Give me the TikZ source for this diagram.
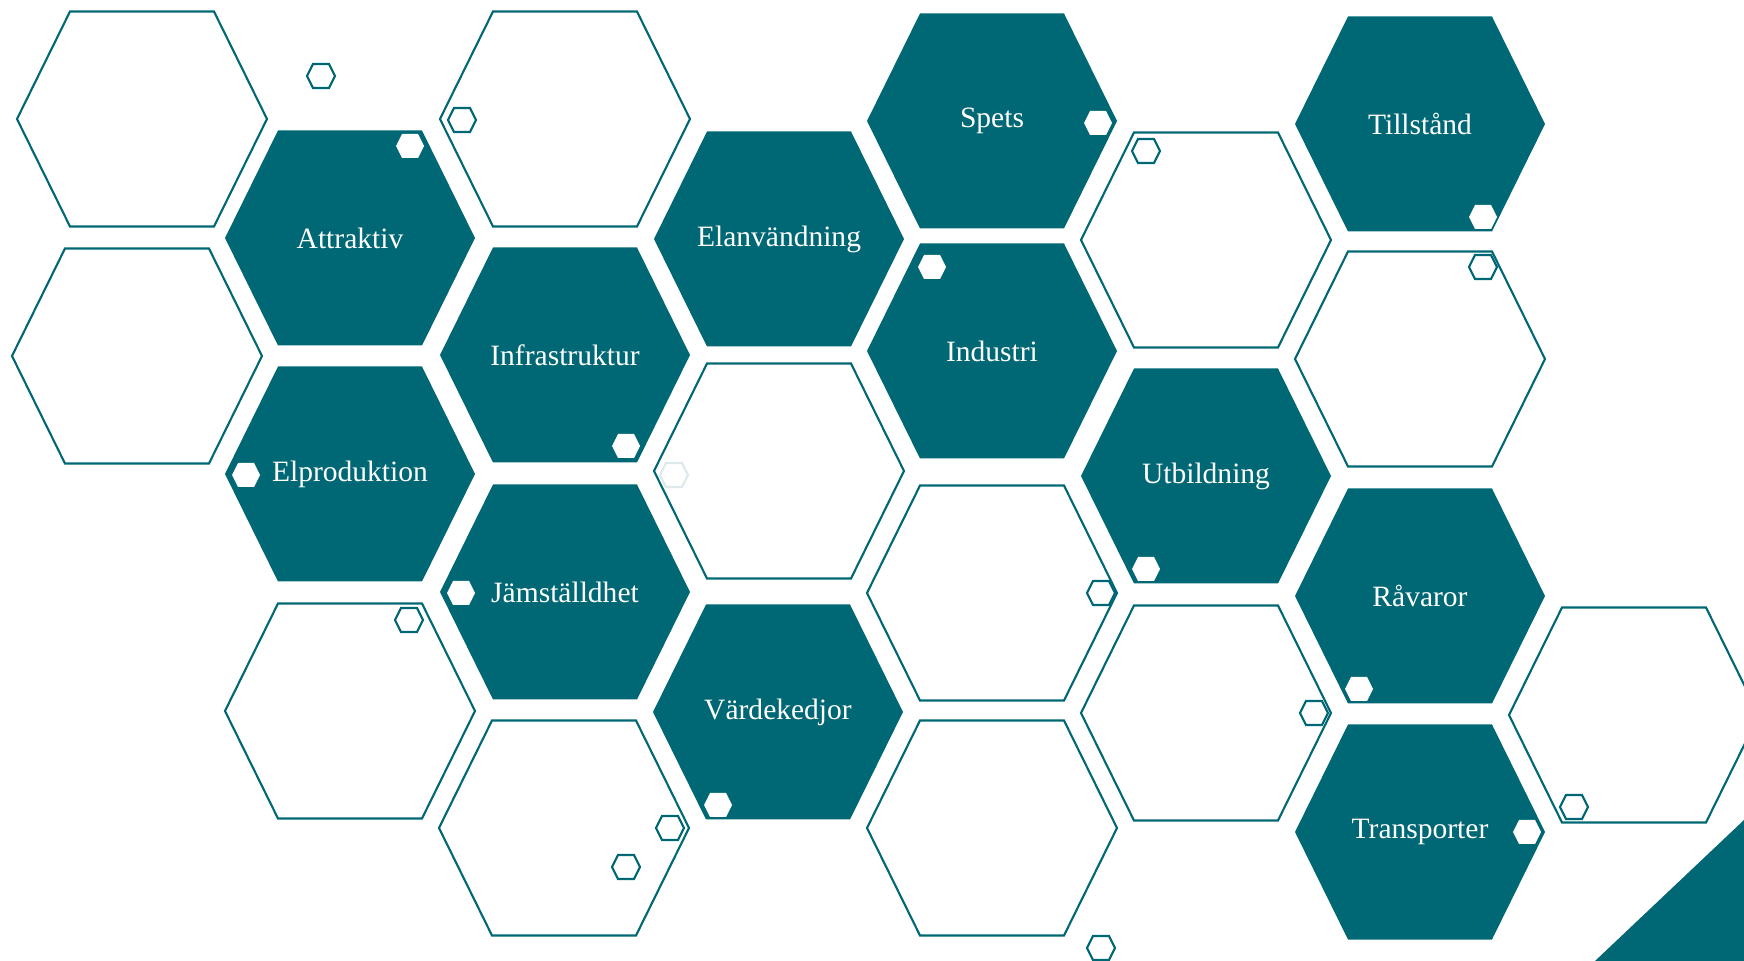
\documentclass[tikz,border=0pt]{standalone}
\usepackage{fontspec}
\setmainfont{Liberation Serif}
\usepackage{tikz}
\definecolor{petrol}{RGB}{0,104,116}
\definecolor{pale}{RGB}{222,233,236}
\newcommand{\bighex}[3][]{\path[#1,shift={(#2,#3)}] (-125,0) -- (-72,-107.5) -- (72,-107.5) -- (125,0) -- (72,107.5) -- (-72,107.5) -- cycle;}
\newcommand{\dothex}[3][]{\path[#1,shift={(#2,#3)}] (-14,0) -- (-8,-12) -- (8,-12) -- (14,0) -- (8,12) -- (-8,12) -- cycle;}

\begin{document}
\begin{tikzpicture}[x=0.1mm, y=-0.1mm,
    field/.style={fill=petrol},
    frame/.style={draw=petrol, line width=0.6pt},
    dot/.style={fill=white},
    ring/.style={draw=petrol, line width=0.6pt},
    faint/.style={draw=pale, line width=0.6pt},
    lbl/.style={text=white, font=\fontsize{8.4}{10}\selectfont}]
      \useasboundingbox (0,0) rectangle (1744,961);
      \bighex[frame]{142}{119}
      \bighex[frame]{565}{119}
      \bighex[frame]{137}{356}
      \bighex[frame]{779}{471}
      \bighex[frame]{1206}{240}
      \bighex[frame]{1420}{359}
      \bighex[frame]{992}{593}
      \bighex[frame]{350}{711}
      \bighex[frame]{564}{828}
      \bighex[frame]{992}{828}
      \bighex[frame]{1206}{713}
      \bighex[frame]{1634}{715}
      \bighex[field]{350}{238}
      \node[lbl] (attraktiv) at (350, 238) {Attraktiv};
      \bighex[field]{779}{239}
      \node[lbl] (elanv) at (779, 239) {Elanvändning};
      \bighex[field]{992}{121}
      \node[lbl] (spets) at (992, 121) {Spets};
      \bighex[field]{1420}{124}
      \node[lbl] (tillstand) at (1420, 124) {Tillstånd};
      \bighex[field]{565}{355}
      \node[lbl] (infra) at (565, 355) {Infrastruktur};
      \bighex[field]{992}{351}
      \node[lbl] (industri) at (992, 351) {Industri};
      \bighex[field]{350}{474}
      \node[lbl] (elprod) at (350, 474) {Elproduktion};
      \bighex[field]{1206}{476}
      \node[lbl] (utb) at (1206, 476) {Utbildning};
      \bighex[field]{565}{592}
      \node[lbl] (jamst) at (565, 592) {Jämställdhet};
      \bighex[field]{1420}{596}
      \node[lbl] (ravaror) at (1420, 596) {Råvaror};
      \bighex[field]{778}{712}
      \node[lbl] (vardek) at (778, 712) {Värdekedjor};
      \bighex[field]{1420}{832}
      \node[lbl] (transp) at (1420, 832) {Transporter};
      \fill[petrol] (1595,961) -- (1744,820) -- (1744,961) -- cycle;
      \dothex[dot]{410}{146}
      \dothex[dot]{626}{446}
      \dothex[dot]{246}{475}
      \dothex[dot]{461}{593}
      \dothex[dot]{718}{805}
      \dothex[dot]{1098}{123}
      \dothex[dot]{932}{267}
      \dothex[dot]{1483}{217}
      \dothex[dot]{1146}{569}
      \dothex[dot]{1359}{689}
      \dothex[dot]{1527}{832}
      \dothex[ring]{321}{76}
      \dothex[ring]{462}{120}
      \dothex[ring]{409}{620}
      \dothex[ring]{670}{828}
      \dothex[ring]{626}{867}
      \dothex[ring]{1146}{151}
      \dothex[ring]{1483}{267}
      \dothex[ring]{1101}{593}
      \dothex[ring]{1314}{713}
      \dothex[ring]{1574}{807}
      \dothex[ring]{1101}{948}
      \dothex[faint]{674}{475}
    \end{tikzpicture}
\end{document}
